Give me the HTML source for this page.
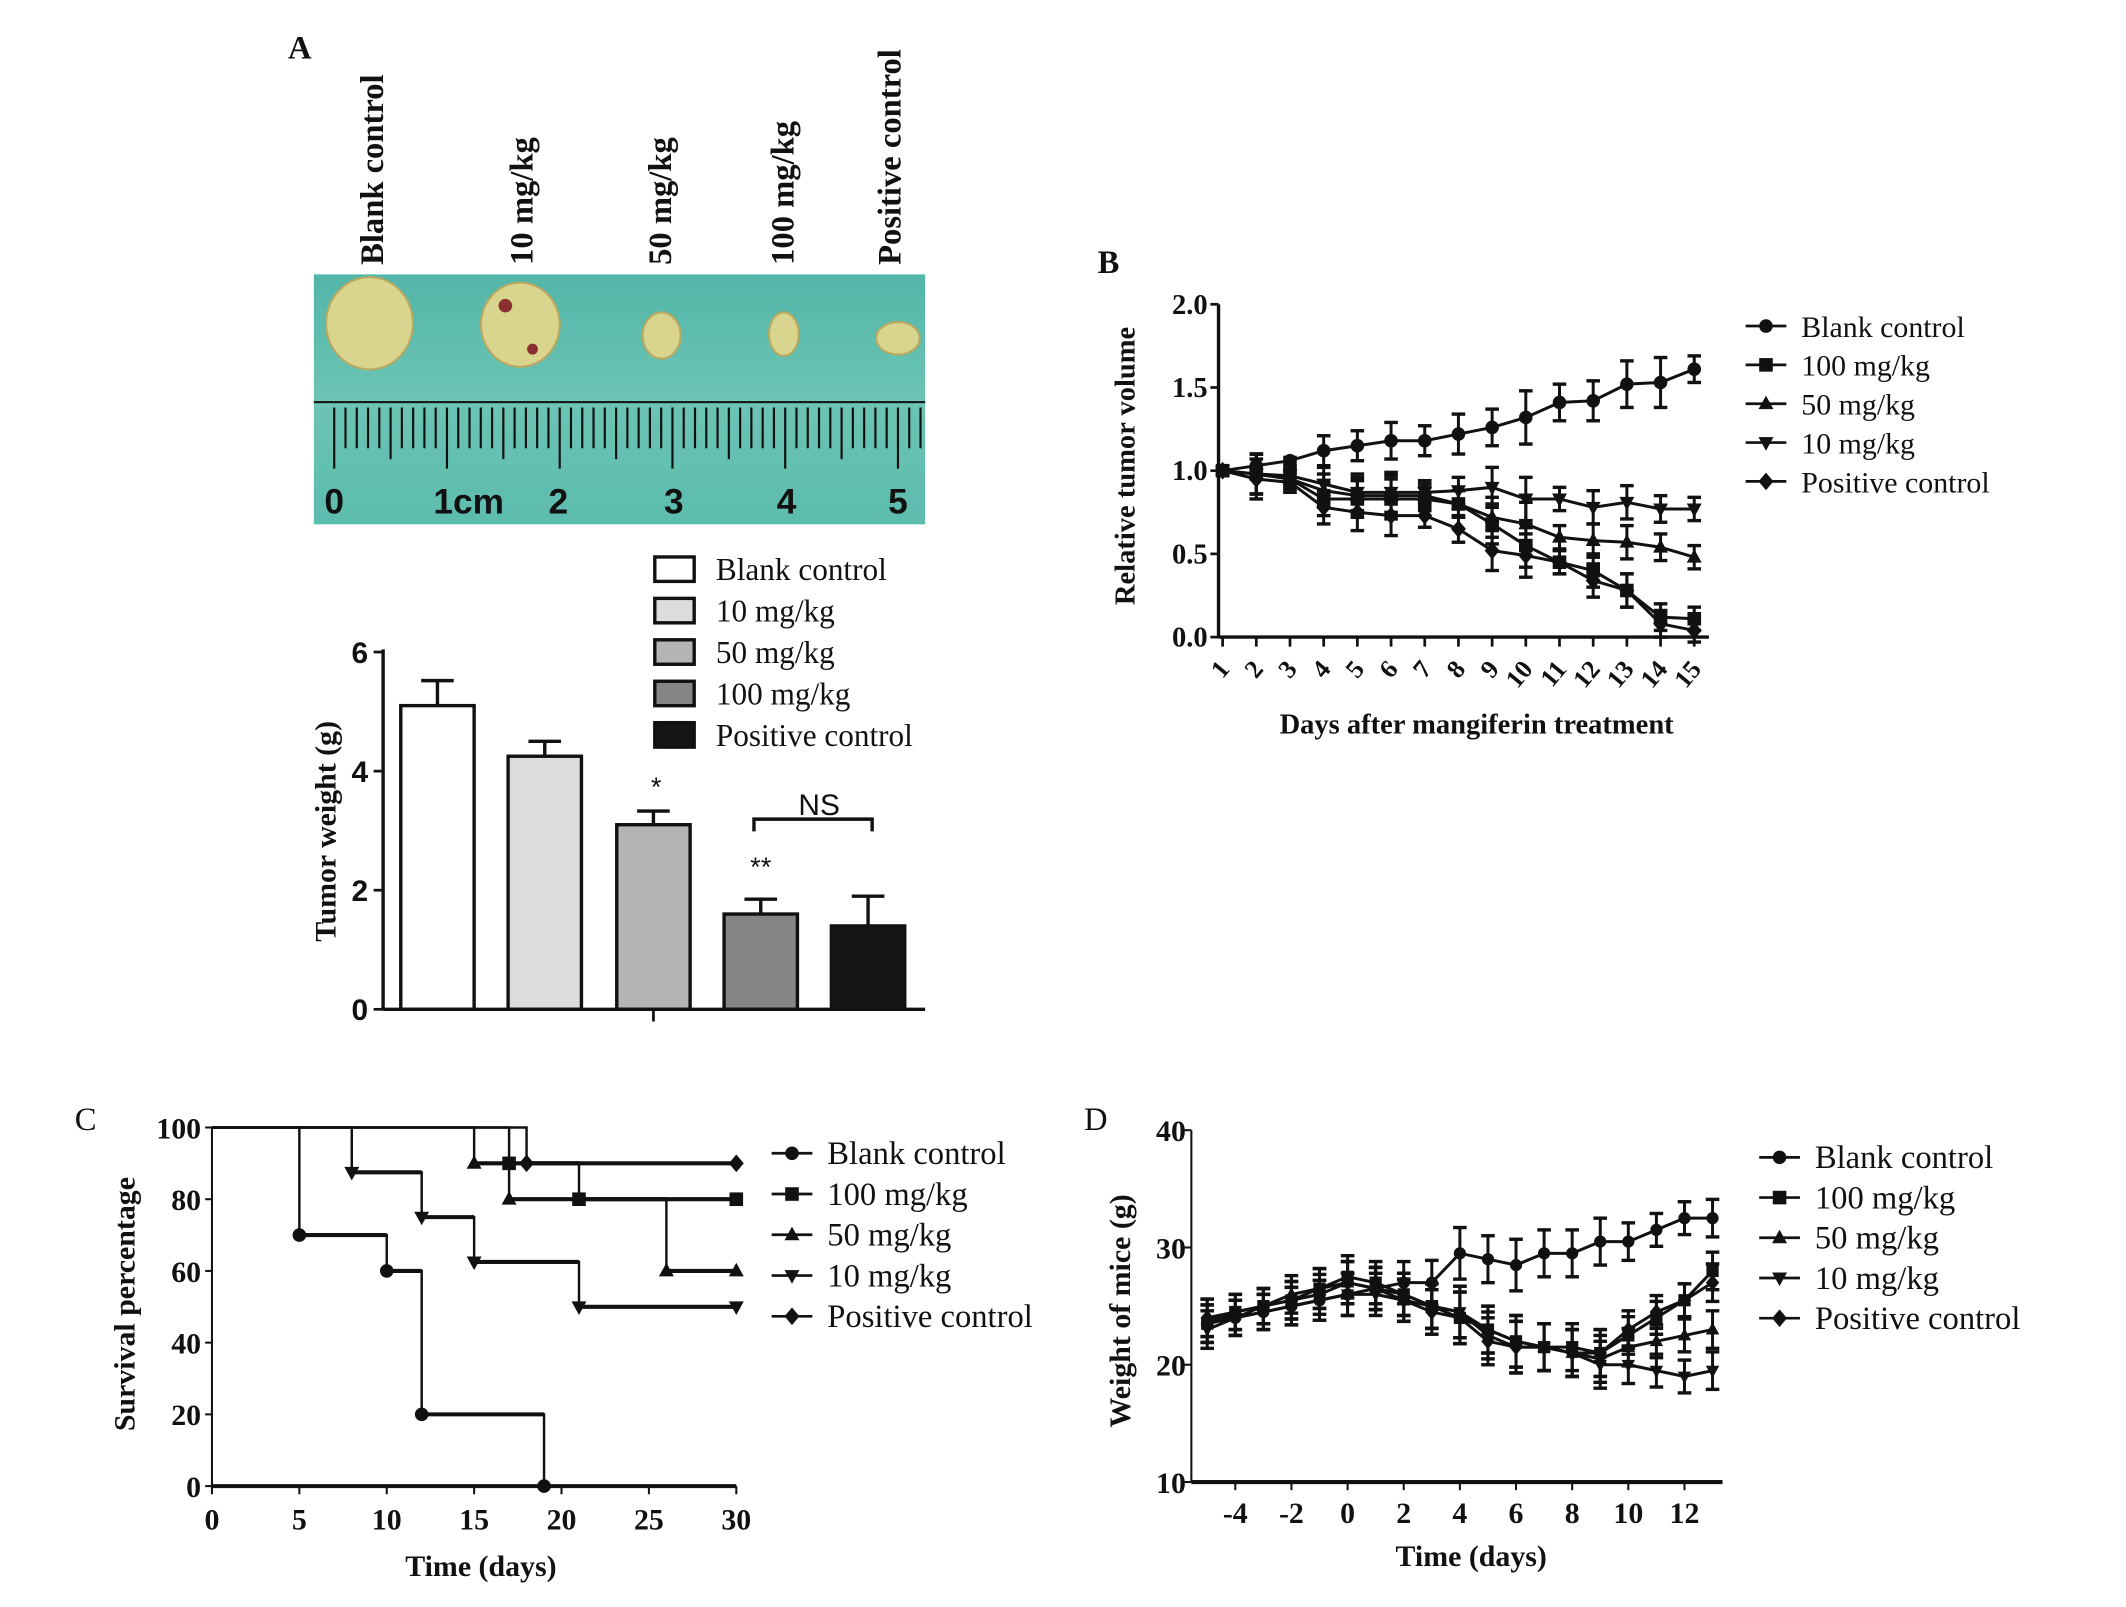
<!DOCTYPE html>
<html><head><meta charset="utf-8"><style>
html,body{margin:0;padding:0;background:#fff;}
svg{display:block;}
</style></head><body>
<svg id="fig" xmlns="http://www.w3.org/2000/svg" width="2126" height="1607" viewBox="0 0 1565 1183">
<rect x="0" y="0" width="1565" height="1183" fill="#fff"/>
<g id="root"></g>
</svg>
<script>
// ---------- Panel A bar data ----------
const barCats = ["Blank control","10 mg/kg","50 mg/kg","100 mg/kg","Positive control"];
const barVals = [5.1, 4.25, 3.1, 1.6, 1.4];
const barErrs = [0.42, 0.25, 0.23, 0.25, 0.5];
const barTicks = [0, 2, 4, 6];
// ---------- Panel B data ----------
const bDays = [1,2,3,4,5,6,7,8,9,10,11,12,13,14,15];
const bBlank = [1.0,1.03,1.06,1.12,1.15,1.18,1.18,1.22,1.26,1.32,1.41,1.42,1.52,1.53,1.61];
const bBlankErr = [0.02,0.07,0.02,0.09,0.09,0.11,0.09,0.12,0.11,0.16,0.11,0.12,0.14,0.15,0.08];
const b100 = [1.0,0.98,0.95,0.83,0.83,0.83,0.83,0.80,0.68,0.55,0.45,0.40,0.28,0.12,0.11];
const b50 = [1.0,0.98,0.95,0.88,0.85,0.85,0.85,0.80,0.72,0.68,0.60,0.58,0.57,0.54,0.48];
const b10 = [1.0,0.98,0.97,0.92,0.87,0.87,0.87,0.88,0.90,0.83,0.83,0.78,0.81,0.77,0.77];
const bPos = [1.0,0.95,0.93,0.78,0.75,0.73,0.73,0.65,0.52,0.49,0.45,0.34,0.28,0.08,0.04];
const bErr = [0.02,0.12,0.06,0.10,0.11,0.12,0.07,0.08,0.12,0.13,0.07,0.10,0.10,0.08,0.07];
const bTicks = [0.0,0.5,1.0,1.5,2.0];
const bTickLabels = ["0.0","0.5","1.0","1.5","2.0"];
// ---------- Panel C data ----------
const cTicksX = [0,5,10,15,20,25,30];
const cTicksY = [0,20,40,60,80,100];
const cBlankT = [0,5,10,12,19];
const cBlankS = [100,70,60,20,0];
const c100T = [0,17,21,30];
const c100S = [100,90,80,80];
const c50T = [0,15,17,26,30];
const c50S = [100,90,80,60,60];
const c10T = [0,8,12,15,21,30];
const c10S = [100,87.5,75,62.5,50,50];
const cPosT = [0,18,30];
const cPosS = [100,90,90];
// ---------- Panel D data ----------
const dDays = [-5,-4,-3,-2,-1,0,1,2,3,4,5,6,7,8,9,10,11,12,13];
const dBlank = [23.5,24,24.5,25,25.5,26,26.5,27,27,29.5,29,28.5,29.5,29.5,30.5,30.5,31.5,32.5,32.5];
const d100 = [23.5,24.5,25,25.5,26.5,27.5,27,26,25,24,23,22,21.5,21.5,21,22.5,24,25.5,28];
const d50 = [24,24.5,25,26,26.5,27,26.5,26,25,24.5,23,22,21.5,21,20.5,21.5,22,22.5,23];
const d10 = [23,24,24.5,25,25.5,26,26,25.5,25,24.5,22.5,21.5,21.5,21,20,20,19.5,19,19.5];
const dPos = [24,24,25,25.5,26,27,26.5,25.5,24.5,24,22,21.5,21.5,21,21,23,24.5,25.5,27];
const dErr = [1.6,1.5,1.5,1.6,1.7,1.8,1.8,1.8,1.9,2.2,2.0,2.2,2.0,2.0,2.0,1.6,1.4,1.4,1.6];
const dTicksX = [-4,-2,0,2,4,6,8,10,12];
const dTicksY = [10,20,30,40];

const NS = "http://www.w3.org/2000/svg";
const root = document.getElementById('root');
function el(tag, attrs, name, parent){
  const e = document.createElementNS(NS, tag);
  for (const k in attrs) e.setAttribute(k, attrs[k]);
  
  
  (parent||root).appendChild(e);
  return e;
}
function txt(x,y,s,size,name,opts){
  opts=opts||{};
  const t = el('text',{x:x,y:y,'font-size':size,'font-family':opts.sans?'"Liberation Sans",sans-serif':'"Liberation Serif",serif','font-weight':opts.bold?'bold':'normal','text-anchor':opts.anchor||'start',fill:'#111'},name,opts.parent);
  if(opts.rot!==undefined) t.setAttribute('transform','rotate('+opts.rot+' '+x+' '+y+')');
  t.textContent=s; return t;
}
function line(x1,y1,x2,y2,w,name,parent){return el('line',{x1:x1,y1:y1,x2:x2,y2:y2,stroke:'#111','stroke-width':w},name,parent);}
function marker(type,x,y,s,name,parent){
  let e;
  if(type==='circle') e=el('circle',{cx:x,cy:y,r:s,fill:'#111'},name,parent);
  else if(type==='square') e=el('rect',{x:x-s,y:y-s,width:2*s,height:2*s,fill:'#111'},name,parent);
  else if(type==='up') e=el('polygon',{points:(x)+','+(y-s*1.2)+' '+(x-s*1.1)+','+(y+s*0.8)+' '+(x+s*1.1)+','+(y+s*0.8),fill:'#111'},name,parent);
  else if(type==='down') e=el('polygon',{points:(x)+','+(y+s*1.2)+' '+(x-s*1.1)+','+(y-s*0.8)+' '+(x+s*1.1)+','+(y-s*0.8),fill:'#111'},name,parent);
  else e=el('polygon',{points:x+','+(y-s*1.3)+' '+(x+s*1.1)+','+y+' '+x+','+(y+s*1.3)+' '+(x-s*1.1)+','+y,fill:'#111'},name,parent);
  return e;
}

// ===== Panel A =====
txt(212,43,"A",24,'panel-a-label',{bold:true});
const photo = el('g',{},'tumor-photo');
const defs = el('defs',{},'defs');
const lg = el('linearGradient',{id:'teal',x1:'0',y1:'0',x2:'0',y2:'1'},'teal-gradient',defs);
el('stop',{offset:'0','stop-color':'#52b6a8'},'stop',lg);
el('stop',{offset:'0.5','stop-color':'#6cc4b4'},'stop',lg);
el('stop',{offset:'1','stop-color':'#5cbcae'},'stop',lg);
el('rect',{x:231,y:202,width:450,height:184,fill:'url(#teal)'},'photo-background',photo);
const tumors=[[272,238,32,34],[383,239,29,31],[487,247,14,17],[577,246,11,16],[661,249,16,12]];
tumors.forEach((t,i)=>{el('ellipse',{cx:t[0],cy:t[1],rx:t[2],ry:t[3],fill:'#d9d48e',stroke:'#b8a860','stroke-width':1.5},'tumor-'+i,photo);});
el('circle',{cx:372,cy:225,r:5,fill:'#8a3030'},'tumor-blood',photo);
el('circle',{cx:392,cy:257,r:4,fill:'#8a3030'},'tumor-blood',photo);
line(231,296,681,296,1.5,'ruler-edge',photo);
for(let mm=0;mm<=52;mm++){
  const x=246+mm*8.3; if(x>679) break;
  let y2 = mm%10===0?345:(mm%5===0?338:330);
  line(x,300,x,y2,1.6,'ruler-tick',photo);
}
const rl=[["0",246],["1cm",345],["2",411],["3",496],["4",579],["5",661]];
rl.forEach(r=>txt(r[1],378,r[0],26,'ruler-number',{sans:true,bold:true,anchor:'middle',parent:photo}));
const colLabels=[["Blank control",282],["10 mg/kg",392],["50 mg/kg",494],["100 mg/kg",584],["Positive control",663]];
colLabels.forEach(c=>txt(c[1],195,c[0],24,'column-label',{bold:true,rot:-90}));

// bar chart
const aX0=282, aY0=743, aY6=480;
const ay=v=>aY0-(aY0-aY6)*v/6;
const barFills=['#ffffff','#dcdcdc','#b4b4b4','#858585','#151515'];
const barX=[295,374,454,533,612], barW=54;
barCats.forEach((c,i)=>{
  const x=barX[i];
  line(x+barW/2,ay(barVals[i]),x+barW/2,ay(barVals[i]+barErrs[i]),2.5,'error-bar-'+i);
  line(x+barW/2-12,ay(barVals[i]+barErrs[i]),x+barW/2+12,ay(barVals[i]+barErrs[i]),2.5,'error-cap-'+i);
  el('rect',{x:x,y:ay(barVals[i]),width:barW,height:aY0-ay(barVals[i]),fill:barFills[i],stroke:'#111','stroke-width':2.5},'bar-'+i);
});
line(aX0,aY0,681,aY0,2.5,'a-x-axis');
line(aX0,aY6-2,aX0,aY0,2.5,'a-y-axis');
line(481,aY0,481,752,2,'a-x-tick');
barTicks.forEach(t=>{line(aX0-7,ay(t),aX0,ay(t),2,'a-y-tick');txt(aX0-11,ay(t)+8,String(t),22,'a-y-tick-label',{sans:true,bold:true,anchor:'end'});});
txt(247,612,"Tumor weight (g)",22,'a-y-axis-title',{bold:true,rot:-90,anchor:'middle'});
txt(483,586,"*",20,'sig-star',{sans:true,anchor:'middle'});
txt(560,645,"**",20,'sig-stars',{sans:true,anchor:'middle'});
el('path',{d:'M555,612 V603 H642 V612',fill:'none',stroke:'#111','stroke-width':2.5},'ns-bracket');
txt(603,600,"NS",22,'ns-label',{sans:true,anchor:'middle'});
barCats.forEach((c,i)=>{
  const y=419+i*30.5;
  el('rect',{x:482,y:y-9,width:29,height:18,fill:barFills[i],stroke:'#111','stroke-width':2.5},'a-legend-swatch');
  txt(527,y+8,c,23,'a-legend-label');
});

// ===== Panel B =====
txt(808,201,"B",24,'panel-b-label',{bold:true});
const bX0=897,bYt=224,bYb=469;
const bx=d=>900+(d-1)*24.8;
const by=v=>bYb-(bYb-bYt)*v/2;
line(bX0,bYt,bX0,bYb,2.5,'b-y-axis');
line(bX0,bYb,1258,bYb,2.5,'b-x-axis');
bTicks.forEach((t,i)=>{line(bX0-6,by(t),bX0,by(t),2,'b-y-tick');txt(bX0-8,by(t)+7,bTickLabels[i],21,'b-y-tick-label',{bold:true,anchor:'end'});});
bDays.forEach(d=>{line(bx(d),bYb,bx(d),bYb+7,2,'b-x-tick');txt(bx(d)+6,bYb+24,String(d),19,'b-x-tick-label',{bold:true,anchor:'end',rot:-50});});
txt(1087,540,"Days after mangiferin treatment",21,'b-x-axis-title',{bold:true,anchor:'middle'});
txt(835,343,"Relative tumor volume",21,'b-y-axis-title',{bold:true,rot:-90,anchor:'middle'});
function series(xs,ys,errs,xf,yf,type,name,ms){
  const g=el('g',{},name);
  let d='';xs.forEach((x,i)=>{d+=(i?'L':'M')+xf(x)+','+yf(ys[i]);});
  el('path',{d:d,fill:'none',stroke:'#111','stroke-width':2.2},name+'-line',g);
  xs.forEach((x,i)=>{
    if(errs){const e=errs[i];
      line(xf(x),yf(ys[i]-e),xf(x),yf(ys[i]+e),2.2,name+'-error',g);
      line(xf(x)-5,yf(ys[i]+e),xf(x)+5,yf(ys[i]+e),2.5,name+'-error-cap',g);
      line(xf(x)-5,yf(ys[i]-e),xf(x)+5,yf(ys[i]-e),2.5,name+'-error-cap',g);}
    marker(type,xf(x),yf(ys[i]),ms||5,name+'-point',g);
  });
}
series(bDays,b10,bErr,bx,by,'down','b-series-10mg');
series(bDays,b50,bErr,bx,by,'up','b-series-50mg');
series(bDays,b100,bErr,bx,by,'square','b-series-100mg');
series(bDays,bPos,bErr,bx,by,'diamond','b-series-positive');
series(bDays,bBlank,bBlankErr,bx,by,'circle','b-series-blank');
const legNames=["Blank control","100 mg/kg","50 mg/kg","10 mg/kg","Positive control"];
const legTypes=['circle','square','up','down','diamond'];
function legend(x,y0,dy,size,prefix){
  legNames.forEach((n,i)=>{const y=y0+i*dy;
    line(x-15,y,x+15,y,2,prefix+'-legend-line');
    marker(legTypes[i],x,y,5,prefix+'-legend-marker');
    txt(x+26,y+8,n,size,prefix+'-legend-label');});
}
legend(1300,240,28.6,22,'b');

// ===== Panel C =====
txt(55,832,"C",24,'panel-c-label',{});
const cX0=156,cX30=542,cY0=1094,cY100=830;
const cx=t=>cX0+(cX30-cX0)*t/30;
const cy=s=>cY0-(cY0-cY100)*s/100;
line(cX0,cY100,cX0,cY0,1.5,'c-y-axis');
line(cX0,cY0,cX30,cY0,3,'c-x-axis');
cTicksX.forEach(t=>{line(cx(t),cY0,cx(t),cY0+6,1.5,'c-x-tick');txt(cx(t),cY0+32,String(t),22,'c-x-tick-label',{bold:true,anchor:'middle'});});
cTicksY.forEach(t=>{line(cX0-5,cy(t),cX0,cy(t),1.5,'c-y-tick');txt(cX0-8,cy(t)+8,String(t),22,'c-y-tick-label',{bold:true,anchor:'end'});});
txt(354,1160,"Time (days)",22,'c-x-axis-title',{bold:true,anchor:'middle'});
txt(99,960,"Survival percentage",22,'c-y-axis-title',{bold:true,rot:-90,anchor:'middle'});
function km(ts,ss,type,name){
  const g=el('g',{},name);
  let d='M'+cx(ts[0])+','+cy(ss[0]);
  for(let i=1;i<ts.length;i++){d+='H'+cx(ts[i])+'V'+cy(ss[i]);}
  el('path',{d:d,fill:'none',stroke:'#111','stroke-width':1.8},name+'-line',g);
  for(let i=1;i<ts.length;i++){
    const tEnd = i+1<ts.length?ts[i+1]:ts[i];
    if(tEnd>ts[i]) line(cx(ts[i]),cy(ss[i]),cx(tEnd),cy(ss[i]),3,name+'-segment',g);
    marker(type,cx(ts[i]),cy(ss[i]),5,name+'-point',g);
  }
}
km(cBlankT,cBlankS,'circle','c-series-blank');
km(c10T,c10S,'down','c-series-10mg');
km(c50T,c50S,'up','c-series-50mg');
km(c100T,c100S,'square','c-series-100mg');
km(cPosT,cPosS,'diamond','c-series-positive');
legend(583,849,30,24,'c');

// ===== Panel D =====
txt(798,832,"D",24,'panel-d-label',{});
const dX0=877,dY10=1091,dY40=832;
const dx=t=>992+(1240-992)*t/12;
const dy=v=>dY10-(dY10-dY40)*(v-10)/30;
line(dX0,dY40,dX0,dY10,1.5,'d-y-axis');
line(dX0,dY10,1268,dY10,3,'d-x-axis');
dTicksY.forEach(t=>{line(dX0-5,dy(t),dX0,dy(t),1.5,'d-y-tick');txt(dX0-4,dy(t)+8,String(t),22,'d-y-tick-label',{bold:true,anchor:'end'});});
dTicksX.forEach(t=>{line(dx(t),dY10,dx(t),dY10+6,1.5,'d-x-tick');txt(dx(t),dY10+30,String(t),22,'d-x-tick-label',{bold:true,anchor:'middle'});});
txt(1083,1153,"Time (days)",22,'d-x-axis-title',{bold:true,anchor:'middle'});
txt(832,965,"Weight of mice (g)",22,'d-y-axis-title',{bold:true,rot:-90,anchor:'middle'});
series(dDays,d10,dErr,dx,dy,'down','d-series-10mg',4.5);
series(dDays,d50,dErr,dx,dy,'up','d-series-50mg',4.5);
series(dDays,dPos,dErr,dx,dy,'diamond','d-series-positive',4.5);
series(dDays,d100,dErr,dx,dy,'square','d-series-100mg',4.5);
series(dDays,dBlank,dErr,dx,dy,'circle','d-series-blank',4.5);
legend(1310,852,29.6,24,'d');
</script>
</body></html>
